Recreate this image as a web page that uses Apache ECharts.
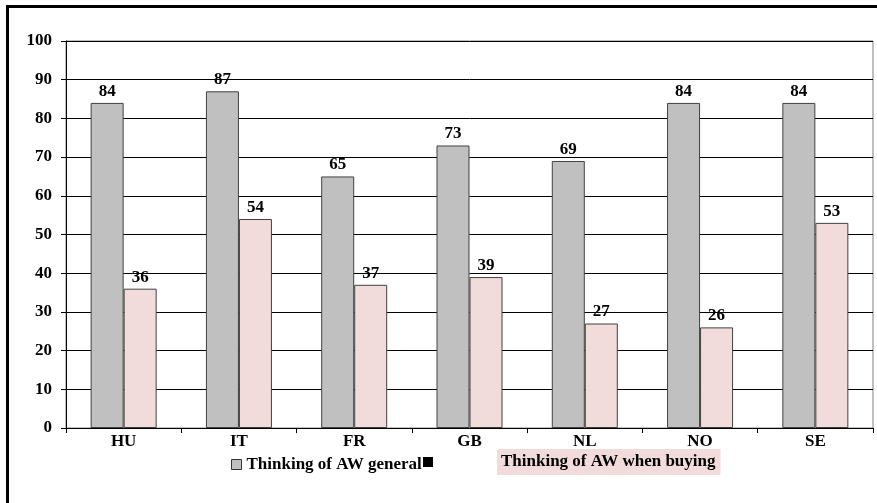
<!DOCTYPE html>
<html>
<head>
<meta charset="utf-8">
<script src="https://cdn.jsdelivr.net/npm/echarts@6/dist/echarts.min.js"></script>
<style>
  html, body { margin: 0; padding: 0; background: #fff; }
  #chart { width: 877px; height: 503px; }
</style>
</head>
<body>
<div id="chart"></div>
<script>
// Countries and share of respondents (%)
const countries = ['HU', 'IT', 'FR', 'GB', 'NL', 'NO', 'SE'];
const generalValues = [84, 87, 65, 73, 69, 84, 84];
const buyingValues = [36, 54, 37, 39, 27, 26, 53];
const seriesNames = ['Thinking of AW general', 'Thinking of AW when buying'];
const yTicks = { min: 0, max: 100, interval: 10 };

const FONT = '"Liberation Serif", "Times New Roman", serif';
const GREY = '#c0c0c0';
const PINK = '#f2dcdb';
const FS = 17;

const chart = echarts.init(document.getElementById('chart'), null, { renderer: 'canvas' });

const labelStyle = {
  show: true,
  position: 'top',
  distance: 3,
  color: '#000',
  fontFamily: FONT,
  fontWeight: 'bold',
  fontSize: FS
};

chart.setOption({
  animation: false,
  backgroundColor: '#fff',
  grid: {
    left: 66, right: 4, top: 41, bottom: 75,
    show: true, borderColor: '#808080', borderWidth: 1, backgroundColor: 'transparent'
  },
  xAxis: {
    type: 'category',
    data: countries,
    axisLine: { lineStyle: { color: '#000', width: 1 } },
    axisTick: { show: true, length: 5, lineStyle: { color: '#000' } },
    axisLabel: { color: '#000', fontFamily: FONT, fontWeight: 'bold', fontSize: FS, margin: 5 }
  },
  yAxis: {
    type: 'value',
    min: yTicks.min, max: yTicks.max, interval: yTicks.interval,
    axisLine: { show: true, lineStyle: { color: '#000', width: 1 } },
    axisTick: { show: true, length: 5, lineStyle: { color: '#000' } },
    axisLabel: { color: '#000', fontFamily: FONT, fontWeight: 'bold', fontSize: FS, margin: 14 },
    splitLine: { show: true, lineStyle: { color: '#000', width: 1 } }
  },
  legend: [
    {
      left: 226, top: 451,
      itemWidth: 10, itemHeight: 10, itemGap: 0,
      data: [{ name: seriesNames[0], icon: 'rect',
        itemStyle: { color: GREY, borderColor: '#333', borderWidth: 1 } }],
      textStyle: { color: '#000', fontFamily: FONT, fontWeight: 'bold', fontSize: FS },
      selectedMode: false
    },
    {
      left: 418, top: 444,
      itemWidth: 10, itemHeight: 10, itemGap: 0,
      data: [{ name: seriesNames[1], icon: 'rect',
        itemStyle: { color: '#000', borderWidth: 0 } }],
      formatter: function (name) { return '{g|}{t|' + name + '}'; },
      textStyle: {
        color: '#000', fontFamily: FONT, fontWeight: 'bold', fontSize: FS,
        rich: {
          g: { width: 59 },
          t: { backgroundColor: PINK, padding: [4, 5, 5, 4], fontFamily: FONT, fontWeight: 'bold', fontSize: FS, color: '#000' }
        }
      },
      selectedMode: false
    }
  ],
  series: [
    {
      name: seriesNames[0],
      type: 'bar',
      data: generalValues,
      barWidth: 33,
      barGap: '0%',
      itemStyle: { color: GREY, borderColor: '#404040', borderWidth: 1 },
      label: labelStyle
    },
    {
      name: seriesNames[1],
      type: 'bar',
      data: buyingValues,
      barWidth: 33,
      barGap: '0%',
      itemStyle: { color: PINK, borderColor: '#404040', borderWidth: 1 },
      label: labelStyle
    }
  ],
  graphic: [
    {
      type: 'polyline',
      shape: { points: [[7.5, 503], [7.5, 6.5], [877, 6.5]] },
      style: { stroke: '#000', lineWidth: 3, fill: null },
      z: 100
    }
  ]
});
</script>
</body>
</html>
